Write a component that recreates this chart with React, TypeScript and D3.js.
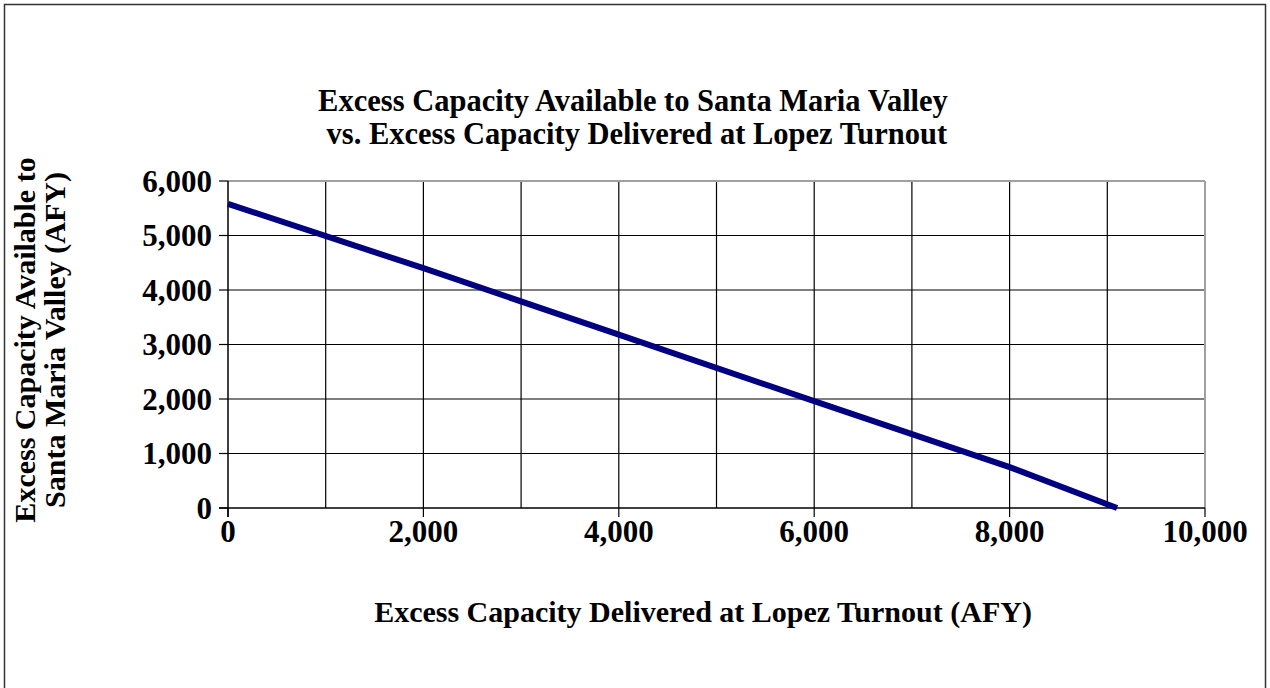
import { line, scaleLinear, format } from "d3";

const lopezTurnout = [0, 2000, 4000, 6000, 8000, 9100];
const santaMariaValley = [5580, 4400, 3180, 1960, 750, 0];
const xTicks = [0, 2000, 4000, 6000, 8000, 10000];
const xGrid = [1000, 2000, 3000, 4000, 5000, 6000, 7000, 8000, 9000];
const yTicks = [0, 1000, 2000, 3000, 4000, 5000, 6000];
const titleLines = [
  "Excess Capacity Available to Santa Maria Valley",
  " vs. Excess Capacity Delivered at Lopez Turnout",
];
const xTitle = "Excess Capacity Delivered at Lopez Turnout (AFY)";
const yTitleLines = ["Excess Capacity Available to", "Santa Maria Valley (AFY)"];

const W = 1270;
const H = 688;
const plot = { left: 228, right: 1205, top: 181, bottom: 508 };
const font = "'Liberation Serif', 'Times New Roman', serif";

export default function App() {
  const x = scaleLinear().domain([0, 10000]).range([plot.left, plot.right]);
  const y = scaleLinear().domain([0, 6000]).range([plot.bottom, plot.top]);
  const fmt = format(",");
  const pts = lopezTurnout.map((v, i) => [v, santaMariaValley[i]] as [number, number]);
  const path = line<[number, number]>()
    .x((d) => x(d[0]))
    .y((d) => y(d[1]))(pts);
  const midY = 340;

  return (
    <svg
      width={W}
      height={H}
      style={{ position: "absolute", left: 0, top: 0, background: "#fff" }}
      fontFamily={font}
      fontWeight="bold"
    >
      <rect x={4.5} y={4.5} width={1261} height={700} fill="none" stroke="#333" strokeWidth={1.5} />

      {/* title */}
      {titleLines.map((t, i) => (
        <text key={i} x={633} y={111 + i * 33} textAnchor="middle" fontSize={30.5} style={{ whiteSpace: "pre" }}>
          {t}
        </text>
      ))}

      {/* grid */}
      {yTicks.slice(1, -1).map((v) => (
        <line key={"hy" + v} x1={plot.left} x2={plot.right} y1={y(v)} y2={y(v)} stroke="#000" strokeWidth={1.2} />
      ))}
      {xGrid.map((v) => (
        <line key={"vx" + v} x1={x(v)} x2={x(v)} y1={plot.top} y2={plot.bottom} stroke="#000" strokeWidth={1.2} />
      ))}
      {/* top / right border */}
      <line x1={plot.left} x2={plot.right} y1={plot.top} y2={plot.top} stroke="#a0a0a0" strokeWidth={2} />
      <line x1={plot.right} x2={plot.right} y1={plot.top} y2={plot.bottom} stroke="#a0a0a0" strokeWidth={2} />

      {/* axes */}
      <line x1={plot.left} x2={plot.left} y1={plot.top} y2={plot.bottom + 9} stroke="#000" strokeWidth={1.5} />
      <line x1={plot.left - 9} x2={plot.right} y1={plot.bottom} y2={plot.bottom} stroke="#000" strokeWidth={1.5} />
      {yTicks.map((v) => (
        <g key={"yt" + v}>
          <line x1={plot.left - 9} x2={plot.left} y1={y(v)} y2={y(v)} stroke="#000" strokeWidth={1.2} />
          <text x={plot.left - 16} y={y(v)} dy="0.35em" textAnchor="end" fontSize={31}>
            {fmt(v)}
          </text>
        </g>
      ))}
      {xTicks.map((v) => (
        <g key={"xt" + v}>
          <line x1={x(v)} x2={x(v)} y1={plot.bottom} y2={plot.bottom + 9} stroke="#000" strokeWidth={1.2} />
          <text x={x(v)} y={plot.bottom + 34} textAnchor="middle" fontSize={31}>
            {fmt(v)}
          </text>
        </g>
      ))}

      {/* series */}
      <path d={path ?? ""} fill="none" stroke="#000080" strokeWidth={6} />

      {/* axis titles */}
      <text x={703} y={622} textAnchor="middle" fontSize={30}>
        {xTitle}
      </text>
      {yTitleLines.map((t, i) => (
        <text
          key={i}
          transform={`translate(${35 + i * 30},${midY}) rotate(-90)`}
          textAnchor="middle"
          fontSize={30}
        >
          {t}
        </text>
      ))}
    </svg>
  );
}
